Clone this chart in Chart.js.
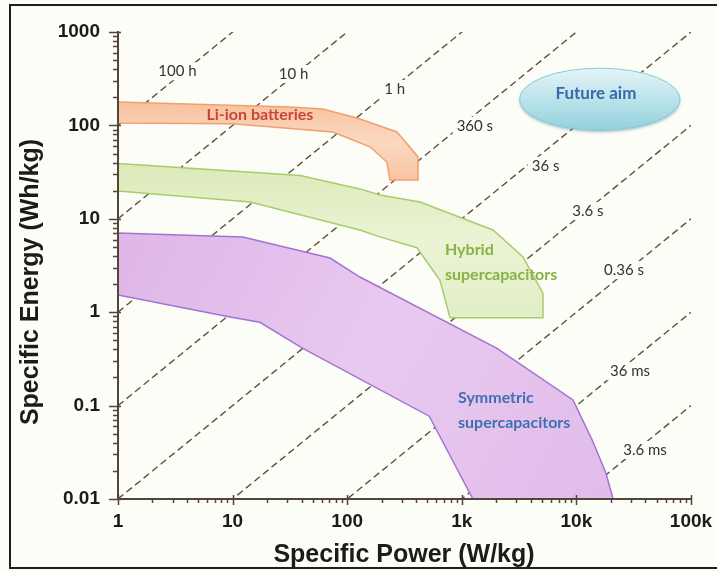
<!DOCTYPE html>
<html lang="en">
<head>
<meta charset="UTF-8">
<title>Ragone plot</title>
<script src="https://cdn.jsdelivr.net/npm/chart.js"></script>
<style>
    body { margin: 0; background: #fdfdf7; }
    canvas { display: block; }
</style>
</head>
<body>
<canvas id="myChart" width="717" height="572"></canvas>
<script>
    // outlines of each region: specific power (W/kg) and specific energy (Wh/kg)
    const liIonPower  = [1, 32, 61, 122, 272, 415, 415, 236, 222, 158, 75, 10, 1];
    const liIonEnergy = [178, 157, 150, 120, 85, 46, 26, 26, 40.5, 59, 85, 104, 106];

    const hybridPower  = [1, 39, 129, 193, 432, 1870, 3420, 5110, 5110, 789, 645, 406, 193, 129, 14.2, 1];
    const hybridEnergy = [39, 29, 20.9, 18, 15.1, 7.6, 3.9, 1.6, 0.87, 0.87, 2.2, 4.9, 6.4, 7.6, 15.1, 19.9];

    const symPower  = [1, 12.3, 70.8, 129, 2030, 9340, 13700, 18100, 20900, 1250, 520, 41, 17.3, 9.5, 1];
    const symEnergy = [7.05, 6.4, 3.8, 2.38, 0.41, 0.115, 0.043, 0.019, 0.01, 0.01, 0.077, 0.41, 0.78, 0.89, 1.53];

    // "Future aim" ellipse, its extent in data units
    const aimPower  = [3200, 80000];
    const aimEnergy = [89, 410];

    // lines of constant discharge time, E = P * t (t in hours)
    const timesH = [100, 10, 1, 0.1, 0.01, 0.001, 0.0001, 0.00001, 0.000001];
    const timeLabels = ['100 h', '10 h', '1 h', '360 s', '36 s', '3.6 s', '0.36 s', '36 ms', '3.6 ms'];
    const timeLabelPower  = [3.3, 34, 260, 1300, 5400, 12600, 26000, 29400, 39700];
    const timeLabelEnergy = [380, 355, 245, 99, 37, 12.1, 2.83, 0.234, 0.0335];

    const xTickLabels = ['1', '10', '100', '1k', '10k', '100k'];
    const yTickLabels = ['0.01', '0.1', '1', '10', '100', '1000'];

    const bg = '#fdfdf7';
    const axisColor = '#52463b';
    const arial = '"Liberation Sans", Arial, sans-serif';

    function closed(px, ey) {
        let pts = px.map((p, i) => ({ x: p, y: ey[i] }));
        pts.push(pts[0]);
        return pts;
    }

    function isDecade(v) {
        let e = Math.log10(v);
        return Math.abs(e - Math.round(e)) < 1e-6;
    }

    function decadeTicks(scale) {
        let t = [];
        let e0 = Math.round(Math.log10(scale.min));
        let e1 = Math.round(Math.log10(scale.max));
        for (let e = e0; e < e1; e++) {
            for (let k = 1; k < 10; k++) {
                t.push({ value: e < 0 ? k / Math.pow(10, -e) : k * Math.pow(10, e) });
            }
        }
        t.push({ value: scale.max });
        scale.ticks = t;
    }

    function decadeLabel(v, labels, firstExp) {
        if (!isDecade(v)) return '';
        return labels[Math.round(Math.log10(v)) - firstExp];
    }

    // gradient across the bounding box of a region
    function bandFill(stops, diagonal) {
        return function (ctx) {
            let chart = ctx.chart;
            if (!chart.chartArea || !ctx.dataset) return stops[1];
            let xs = chart.scales.x, ys = chart.scales.y;
            let l = Infinity, r = -Infinity, t = Infinity, b = -Infinity;
            ctx.dataset.data.forEach(p => {
                let px = xs.getPixelForValue(p.x), py = ys.getPixelForValue(p.y);
                l = Math.min(l, px); r = Math.max(r, px);
                t = Math.min(t, py); b = Math.max(b, py);
            });
            let g = diagonal ? chart.ctx.createLinearGradient(l, t, r, b)
                             : chart.ctx.createLinearGradient(0, t, 0, b);
            g.addColorStop(0, stops[0]);
            g.addColorStop(0.5, stops[1]);
            g.addColorStop(1, stops[2]);
            return g;
        };
    }

    let datasets = [];

    // dashed lines go underneath the regions
    timesH.forEach(t => {
        datasets.push({
            data: [{ x: 1, y: t }, { x: 100000, y: t * 100000 }],
            showLine: true,
            fill: false,
            borderColor: '#5e5044',
            borderWidth: 1.4,
            borderDash: [7, 4],
            pointRadius: 0,
            order: 3
        });
    });

    datasets.push({
        label: 'Li-ion batteries',
        data: closed(liIonPower, liIonEnergy),
        showLine: true,
        fill: 'shape',
        backgroundColor: bandFill(['#f8c29d', '#fbd8c1', '#f8c5a3'], false),
        borderColor: '#efa070',
        borderWidth: 1.5,
        pointRadius: 0,
        order: 1
    });
    datasets.push({
        label: 'Hybrid supercapacitors',
        data: closed(hybridPower, hybridEnergy),
        showLine: true,
        fill: 'shape',
        backgroundColor: bandFill(['#dceab8', '#ebf3d6', '#e2eec6'], false),
        borderColor: '#a6cd6c',
        borderWidth: 1.5,
        pointRadius: 0,
        order: 1
    });
    datasets.push({
        label: 'Symmetric supercapacitors',
        data: closed(symPower, symEnergy),
        showLine: true,
        fill: 'shape',
        backgroundColor: bandFill(['#deb6e7', '#e8c9ef', '#e1bcea'], true),
        borderColor: '#a173d6',
        borderWidth: 1.5,
        pointRadius: 0,
        order: 1
    });

    const paper = {
        id: 'paper',
        beforeDraw(chart) {
            let c = chart.ctx;
            c.save();
            c.fillStyle = bg;
            c.fillRect(0, 0, chart.width, chart.height);
            c.restore();
        },
        afterDatasetsDraw(chart) {
            let c = chart.ctx;
            let xs = chart.scales.x, ys = chart.scales.y;

            // future aim ellipse
            let x0 = xs.getPixelForValue(aimPower[0]), x1 = xs.getPixelForValue(aimPower[1]);
            let y0 = ys.getPixelForValue(aimEnergy[1]), y1 = ys.getPixelForValue(aimEnergy[0]);
            c.save();
            c.shadowColor = 'rgba(50,120,140,0.45)';
            c.shadowBlur = 3;
            c.shadowOffsetY = 2;
            let g = c.createLinearGradient(0, y0, 0, y1);
            g.addColorStop(0, '#e4f5f8');
            g.addColorStop(1, '#93d1de');
            c.fillStyle = g;
            c.beginPath();
            c.ellipse((x0 + x1) / 2, (y0 + y1) / 2, (x1 - x0) / 2, (y1 - y0) / 2, 0, 0, 2 * Math.PI);
            c.fill();
            c.shadowColor = 'transparent';
            c.strokeStyle = '#8ccbd6';
            c.lineWidth = 1;
            c.stroke();

            // discharge time labels, each breaking its dashed line
            c.font = '15px Lato, "Open Sans", sans-serif';
            c.textAlign = 'center';
            c.textBaseline = 'middle';
            timeLabels.forEach((txt, i) => {
                let px = xs.getPixelForValue(timeLabelPower[i]);
                let py = ys.getPixelForValue(timeLabelEnergy[i]);
                let w = c.measureText(txt).width;
                c.fillStyle = bg;
                c.fillRect(px - w / 2 - 4, py - 9, w + 8, 18);
                c.fillStyle = '#333333';
                c.fillText(txt, px, py);
            });

            // region names
            c.font = 'bold 16px Lato, "Open Sans", sans-serif';
            c.fillStyle = '#c8463c';
            c.fillText('Li-ion batteries', xs.getPixelForValue(17.3), ys.getPixelForValue(129));

            c.textAlign = 'left';
            c.fillStyle = '#86b343';
            let hx = xs.getPixelForValue(713), hy = ys.getPixelForValue(4.63);
            c.fillText('Hybrid', hx, hy);
            c.fillText('supercapacitors', hx, hy + 25);

            c.fillStyle = '#3e70b4';
            let sx = xs.getPixelForValue(927), sy = ys.getPixelForValue(0.122);
            c.fillText('Symmetric', sx, sy);
            c.fillText('supercapacitors', sx, sy + 25);

            c.textAlign = 'center';
            c.font = 'bold 17px Lato, "Open Sans", sans-serif';
            c.fillStyle = '#3a68a8';
            c.fillText('Future aim', xs.getPixelForValue(14800), ys.getPixelForValue(217));
            c.restore();
        },
        afterDraw(chart) {
            let c = chart.ctx;
            let xs = chart.scales.x, ys = chart.scales.y, a = chart.chartArea;
            c.save();

            // tick marks: long ones at decades, short ones in between
            c.strokeStyle = axisColor;
            c.lineWidth = 1.5;
            c.beginPath();
            xs.ticks.forEach(t => {
                let px = Math.round(xs.getPixelForValue(t.value)) + 0.5;
                let major = isDecade(t.value);
                c.moveTo(px, a.bottom + (major ? -4 : 0));
                c.lineTo(px, a.bottom + (major ? 6 : 4));
            });
            ys.ticks.forEach(t => {
                let py = Math.round(ys.getPixelForValue(t.value)) + 0.5;
                let major = isDecade(t.value);
                c.moveTo(a.left + (major ? 3 : 0), py);
                c.lineTo(a.left - (major ? 9 : 5), py);
            });
            c.stroke();

            // axis titles
            c.fillStyle = '#1b1b1b';
            c.font = 'bold 25px ' + arial;
            c.textAlign = 'center';
            c.textBaseline = 'alphabetic';
            c.fillText('Specific Power (W/kg)', 404, 562);
            c.translate(38, 282);
            c.rotate(-Math.PI / 2);
            c.fillText('Specific Energy (Wh/kg)', 0, 0);
            c.restore();

            // frame around the figure
            c.save();
            c.strokeStyle = '#1e1e1e';
            c.lineWidth = 2;
            c.beginPath();
            c.moveTo(717, 5);
            c.lineTo(10, 5);
            c.lineTo(10, 568);
            c.lineTo(717, 568);
            c.stroke();
            c.restore();
        }
    };

    const tickFont = { family: arial, size: 19, weight: 'bold' };

    let ctx = document.getElementById('myChart').getContext('2d');
    let myChart = new Chart(ctx, {
        type: 'scatter',
        data: { datasets: datasets },
        options: {
            responsive: false,
            animation: false,
            events: [],
            layout: { padding: { left: 0, right: 26, top: 32, bottom: 0 } },
            plugins: {
                legend: { display: false },
                tooltip: { enabled: false }
            },
            elements: { point: { radius: 0, hoverRadius: 0 } },
            scales: {
                x: {
                    type: 'logarithmic',
                    min: 1,
                    max: 100000,
                    afterBuildTicks: decadeTicks,
                    afterFit: s => { s.height = 73; s.paddingLeft = 0; s.paddingRight = 0; },
                    grid: { display: false, drawTicks: false },
                    border: { display: true, color: axisColor, width: 2, z: 1 },
                    ticks: {
                        autoSkip: false,
                        maxRotation: 0,
                        padding: 11,
                        color: '#1b1b1b',
                        font: tickFont,
                        callback: v => decadeLabel(v, xTickLabels, 0)
                    }
                },
                y: {
                    type: 'logarithmic',
                    min: 0.01,
                    max: 1000,
                    afterBuildTicks: decadeTicks,
                    afterFit: s => { s.width = 118; },
                    grid: { display: false, drawTicks: false },
                    border: { display: true, color: axisColor, width: 2, z: 1 },
                    ticks: {
                        autoSkip: false,
                        padding: 18,
                        color: '#1b1b1b',
                        font: tickFont,
                        callback: v => decadeLabel(v, yTickLabels, -2)
                    }
                }
            }
        },
        plugins: [paper]
    });
</script>
</body>
</html>
